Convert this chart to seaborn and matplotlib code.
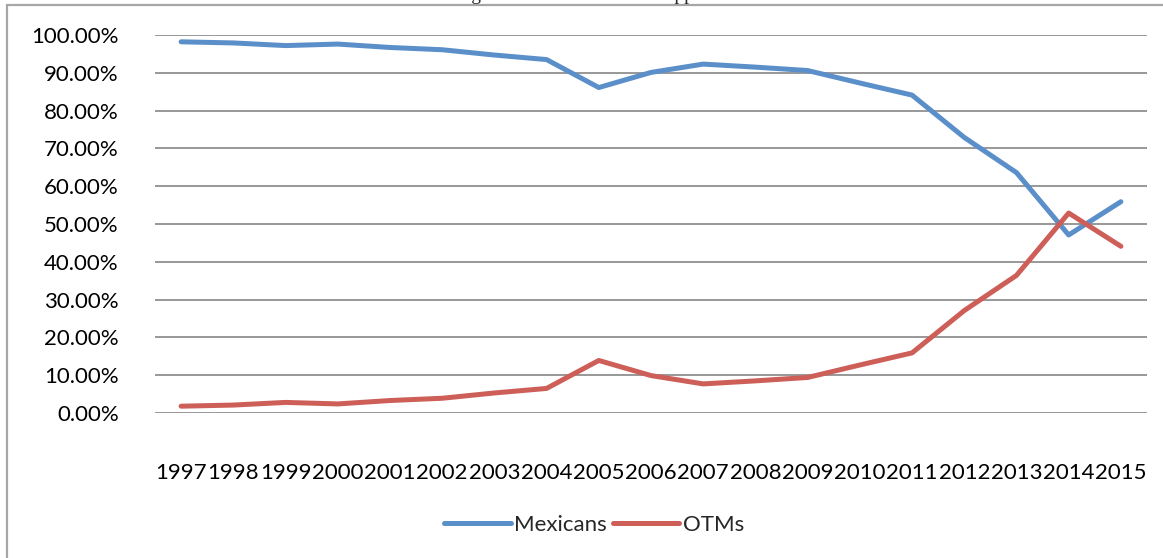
import matplotlib
matplotlib.use("Agg")
import matplotlib.pyplot as plt
from matplotlib.patches import Rectangle
from matplotlib.ticker import FuncFormatter
import pandas as pd
import seaborn as sns

years = [str(y) for y in range(1997, 2016)]
mexicans = [98.2, 97.9, 97.2, 97.6, 96.7, 96.1, 94.7, 93.5, 86.1, 90.1,
            92.3, 91.5, 90.6, 87.3, 84.1, 72.9, 63.6, 47.1, 55.9]
otms = [1.8, 2.1, 2.8, 2.4, 3.3, 3.9, 5.3, 6.5, 13.9, 9.9,
        7.7, 8.5, 9.4, 12.7, 15.9, 27.1, 36.4, 52.9, 44.1]
series = ["Mexicans", "OTMs"]
colors = ["#5b8fc9", "#cd5f58"]
title = "Percentage of Southwest Border Apprehensions"

df = pd.DataFrame({
    "year": years * 2,
    "share": mexicans + otms,
    "group": [series[0]] * len(years) + [series[1]] * len(years),
})

sns.set_style("white")
plt.rcParams["font.family"] = ["Lato", "DejaVu Sans"]

W, H = 1163, 558
fig = plt.figure(figsize=(W / 100, H / 100), dpi=100)
ax = fig.add_axes([155 / W, 1 - 413 / H, (1147 - 155) / W, (413 - 35) / H])

# chart frame (cut off at right and bottom)
fig.patches.append(Rectangle((7 / W, -0.1), 1.2, 1 - 5 / H + 0.1,
                             transform=fig.transFigure, fill=False,
                             edgecolor="#a6a6a6", linewidth=1.6))
# title sits above the visible area, only descenders show
fig.text(404 / W, 1.0, title, family="Liberation Serif", fontsize=14,
         ha="left", va="baseline")

sns.lineplot(data=df, x="year", y="share", hue="group", palette=colors,
             linewidth=3.6, ax=ax, legend=False, sort=False)

ax.set_xlim(-0.5, len(years) - 0.5)
ax.set_ylim(0, 100)
ax.set_yticks(range(0, 101, 10))
ax.yaxis.set_major_formatter(FuncFormatter(lambda v, p: f"{v:.2f}%"))
ax.grid(axis="y", color="#989898", linewidth=1.4)
ax.grid(axis="x", visible=False)
ax.set_axisbelow(True)
for s in ax.spines.values():
    s.set_visible(False)
ax.tick_params(axis="both", length=0, labelsize=16, colors="black")
ax.tick_params(axis="y", pad=26)
ax.tick_params(axis="x", pad=36)
ax.set_xlabel("")
ax.set_ylabel("")

handles = [plt.Line2D([], [], color=c, linewidth=3.6) for c in colors]
fig.legend(handles, series, loc="center", bbox_to_anchor=(594 / W, 1 - 525 / H),
           ncol=2, frameon=False, fontsize=16, handlelength=3.0,
           handletextpad=0.15, columnspacing=0.25)

fig.savefig("out.png", dpi=100)
